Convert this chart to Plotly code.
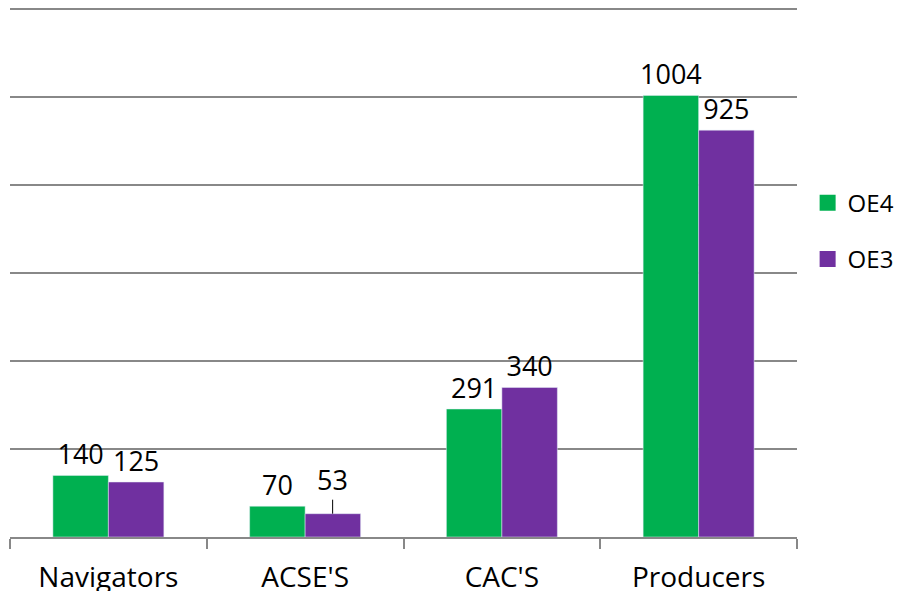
import plotly.graph_objects as go

categories = ["Navigators", "ACSE'S", "CAC'S", "Producers"]
oe4 = [140, 70, 291, 1004]
oe3 = [125, 53, 340, 925]
green = "#00B050"
purple = "#7030A0"
FONT = "Open Sans"

fig = go.Figure()
fig.add_trace(go.Bar(
    name="OE4", x=categories, y=oe4, marker_color=green, showlegend=False,
    text=[str(v) for v in oe4], textposition="outside", cliponaxis=False,
    constraintext="none",
    textfont=dict(family=FONT, size=27, color="#000000"),
))
oe3_text = [str(v) if c != "ACSE'S" else "" for c, v in zip(categories, oe3)]
fig.add_trace(go.Bar(
    name="OE3", x=categories, y=oe3, marker_color=purple, showlegend=False,
    text=oe3_text, textposition="outside", cliponaxis=False,
    constraintext="none",
    textfont=dict(family=FONT, size=27, color="#000000"),
))
# legend entries with larger square swatches
for nm, col, grp in [("OE4", green, "a"), ("OE3", purple, "b")]:
    fig.add_trace(go.Scatter(
        name=nm, x=[None], y=[None], mode="markers", legendgroup=grp,
        marker=dict(symbol="square", size=18, color=col),
        hoverinfo="skip",
    ))

# label with leader line for ACSE'S / OE3
idx = categories.index("ACSE'S")
fig.add_annotation(
    x=idx, y=oe3[idx], xref="x", yref="y", xshift=27.5,
    text=str(oe3[idx]), showarrow=True, arrowhead=0, arrowwidth=1,
    arrowcolor="#000000", ax=0, ay=-14, yanchor="bottom",
    font=dict(family=FONT, size=27, color="#000000"),
)

fig.update_layout(
    barmode="group", bargap=0.436, bargroupgap=0,
    width=902, height=591,
    margin=dict(l=10, r=105, t=7, b=54, autoexpand=False),
    plot_bgcolor="white", paper_bgcolor="white",
    font=dict(family=FONT, color="#000000"),
    legend=dict(
        x=1.0135, y=0.577, xanchor="left", yanchor="middle",
        font=dict(family=FONT, size=24),
        traceorder="grouped", tracegroupgap=22, itemwidth=30,
    ),
    showlegend=True,
)
fig.update_xaxes(
    showline=True, linecolor="#888888", linewidth=1.5,
    ticks="outside", tickson="boundaries", ticklen=10, tickcolor="#888888",
    tickwidth=1.5,
    tickfont=dict(family=FONT, size=28, color="#000000"),
    ticklabelstandoff=15,
)
fig.update_yaxes(
    range=[0, 1205], dtick=200, showticklabels=False,
    showgrid=True, gridcolor="#888888", gridwidth=1.5, zeroline=False,
)

fig.write_html("out.html")
